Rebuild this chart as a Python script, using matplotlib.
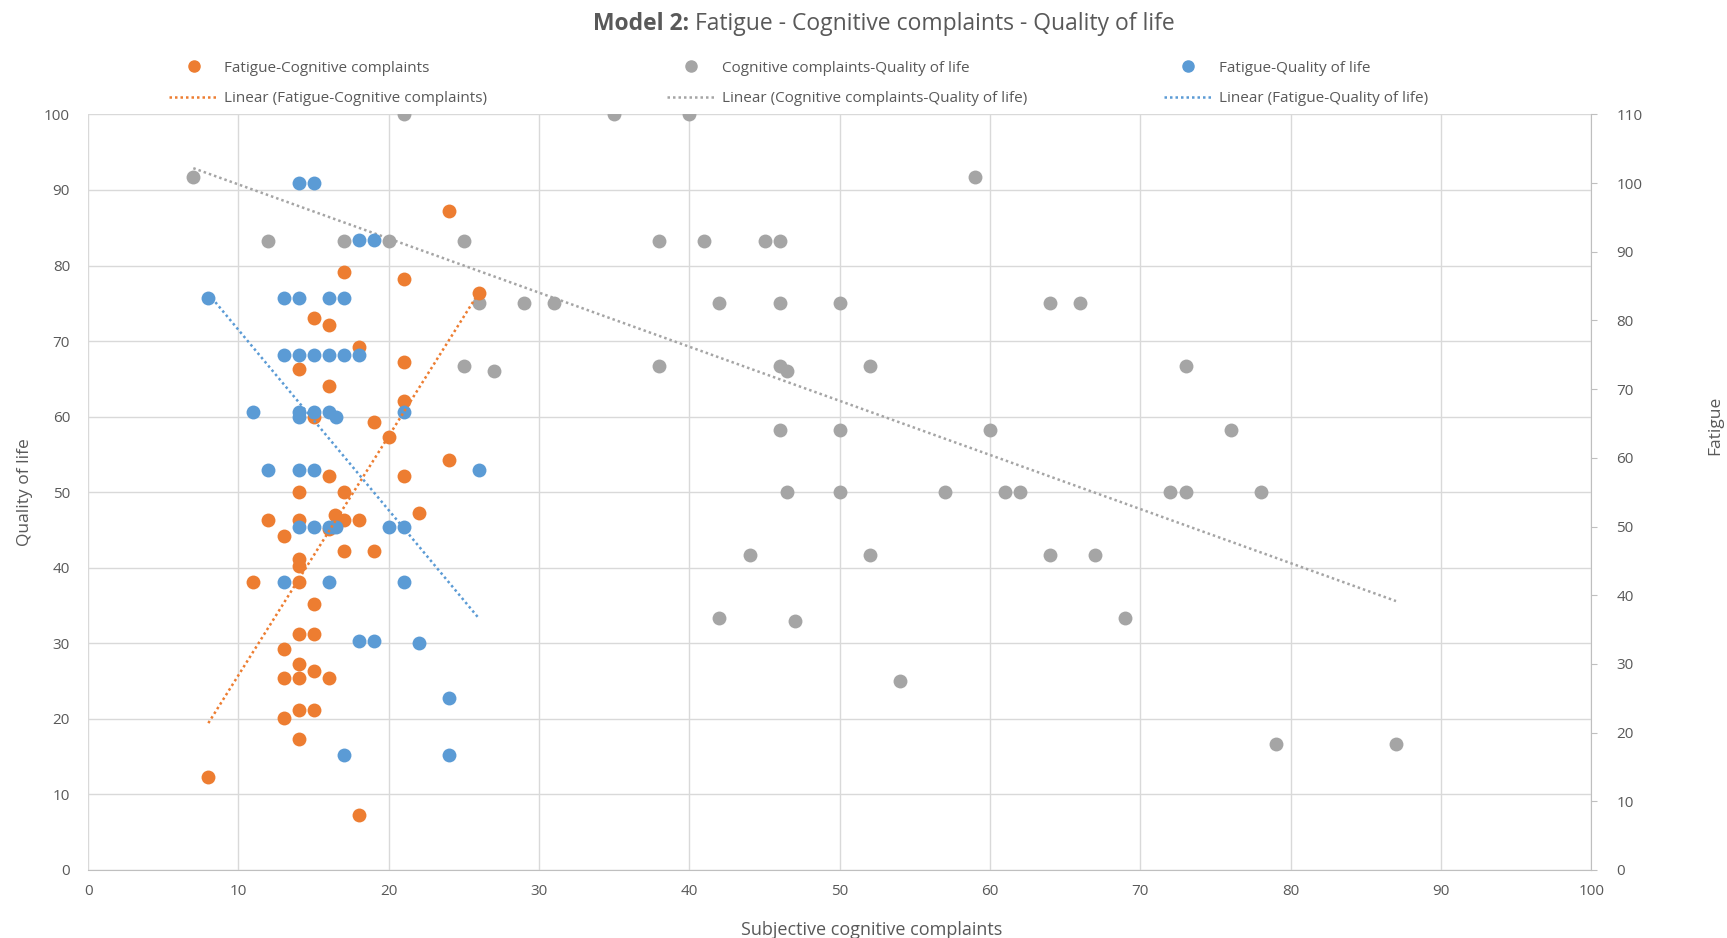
import numpy as np
import matplotlib.pyplot as plt
from matplotlib.lines import Line2D

plt.rcParams['font.family'] = ['Open Sans', 'DejaVu Sans']

# Fatigue-Cognitive complaints (x: cognitive complaints, y: fatigue, right axis)
fc_x = [24, 17, 21, 26, 15, 16, 18, 21, 14, 16, 21, 15, 19, 20, 24, 16, 21, 14, 17, 22,
        12, 14, 16.4, 17, 18, 16, 13, 14, 14, 17, 19, 11, 14, 15, 14, 15, 13, 14, 15, 13,
        14, 16, 14, 15, 13, 14, 8, 18]
fc_y = [96, 87, 86, 84, 80.4, 79.3, 76.2, 74, 73, 70.5, 68.3, 66, 65.2, 63, 59.7, 57.4, 57.4, 55, 55, 52,
        51, 51, 51.7, 51, 51, 49.7, 48.6, 45.3, 44.3, 46.4, 46.4, 42, 42, 38.7, 34.3, 34.3, 32.2, 30, 29, 28,
        28, 28, 23.3, 23.3, 22.2, 19, 13.5, 8]

# Cognitive complaints-Quality of life (left axis)
cq_x = [7, 12, 17, 20, 21, 25, 26, 29, 31, 25, 27, 35, 40, 38, 41, 45, 46, 42, 46, 50,
        38, 46, 46.5, 52, 46, 50, 46.5, 50, 44, 52, 42, 47, 54, 59, 57, 60, 61, 62, 64, 66,
        64, 67, 69, 73, 72, 73, 76, 78, 79, 87]
cq_y = [91.7, 83.3, 83.3, 83.3, 100, 83.3, 75, 75, 75, 66.7, 66, 100, 100, 83.3, 83.3, 83.3, 83.3, 75, 75, 75,
        66.7, 66.7, 66, 66.7, 58.3, 58.3, 50, 50, 41.7, 41.7, 33.3, 33, 25, 91.7, 50, 58.3, 50, 50, 75, 75,
        41.7, 41.7, 33.3, 66.7, 50, 50, 58.3, 50, 16.7, 16.7]

# Fatigue-Quality of life (right axis)
fq_x = [14, 15, 18, 19, 8, 13, 14, 16, 17, 13, 14, 15, 16, 17, 18, 11, 14, 15, 16, 21,
        14, 16.5, 12, 14, 15, 26, 14, 15, 16, 16.3, 16.5, 20, 21, 13, 16, 21, 18, 19, 22, 24,
        17, 24]
fq_y = [100, 100, 91.7, 91.7, 83.3, 83.3, 83.3, 83.3, 83.3, 75, 75, 75, 75, 75, 75, 66.7, 66.7, 66.7, 66.7, 66.7,
        66, 66, 58.3, 58.3, 58.3, 58.3, 50, 50, 50, 50, 50, 50, 50, 42, 42, 42, 33.3, 33.3, 33, 25,
        16.7, 16.7]

orange = '#ED7D31'
gray = '#A5A5A5'
blue = '#5B9BD5'
txt = '#595959'

fig = plt.figure(figsize=(17.27, 9.38), dpi=100)
ax = fig.add_axes([0.051, 0.0725, 0.8705, 0.8055])
ax2 = ax.twinx()

ax.set_xlim(0, 100)
ax.set_ylim(0, 100)
ax2.set_ylim(0, 110)
ax.set_xticks(np.arange(0, 101, 10))
ax.set_yticks(np.arange(0, 101, 10))
ax2.set_yticks(np.arange(0, 111, 10))
ax.grid(True, color='#D9D9D9', linewidth=1)
ax.set_axisbelow(True)

for a in (ax, ax2):
    for s in ('top', 'left'):
        a.spines[s].set_visible(False)
    a.spines['bottom'].set_color('#BFBFBF')
    a.spines['right'].set_color('#BFBFBF')
ax2.spines['bottom'].set_visible(False)
ax.spines['right'].set_visible(False)

ax.tick_params(axis='x', length=0, labelsize=11, labelcolor=txt, pad=10)
ax.tick_params(axis='y', length=0, labelsize=11, labelcolor=txt, pad=13)
ax2.tick_params(axis='y', length=4, color='#BFBFBF', labelsize=11, labelcolor=txt, pad=14)

ax.scatter(cq_x, cq_y, s=100, color=gray, zorder=3, linewidths=0)
ax2.scatter(fc_x, fc_y, s=100, color=orange, zorder=3, linewidths=0)
ax2.scatter(fq_x, fq_y, s=100, color=blue, zorder=4, linewidths=0)

# linear trendlines over each series' x range
def trend(a, xs, ys, color):
    k, b = np.polyfit(xs, ys, 1)
    xx = np.array([min(xs), max(xs)])
    a.plot(xx, k * xx + b, linestyle=(0, (1, 1.2)), color=color, linewidth=1.8, zorder=5)

trend(ax2, fc_x, fc_y, orange)
trend(ax, cq_x, cq_y, gray)
trend(ax2, fq_x, fq_y, blue)

ax.set_xlabel('Subjective cognitive complaints', fontsize=13, color=txt, labelpad=16)
ax.xaxis.set_label_coords(0.521, -0.068)
ax.set_ylabel('Quality of life', fontsize=12.5, color=txt, labelpad=8)
ax2.set_ylabel('Fatigue', fontsize=12.5, color=txt)
ax2.yaxis.set_label_coords(1.077, 0.588)

# legend: three columns, marker row and trendline row
names = ['Fatigue-Cognitive complaints', 'Cognitive complaints-Quality of life', 'Fatigue-Quality of life']
colors = [orange, gray, blue]
col_x = [0.090, 0.378, 0.666]
for name, c, cx in zip(names, colors, col_x):
    h = [Line2D([], [], marker='o', linestyle='none', color=c, markersize=8),
         Line2D([], [], linestyle=(0, (1, 1.2)), color=c, linewidth=1.8)]
    lg = fig.legend(h, [name, 'Linear (' + name + ')'], loc='upper left',
                    bbox_to_anchor=(cx, 0.950), frameon=False, fontsize=11,
                    handlelength=3.2, labelspacing=1.0, handletextpad=0.4)
    for t in lg.get_texts():
        t.set_color(txt)

# title with bold prefix
t1 = fig.text(0, 0.974, 'Model 2: ', fontsize=16.5, fontweight='bold', color=txt, va='center')
t2 = fig.text(0, 0.974, 'Fatigue - Cognitive complaints - Quality of life', fontsize=16.5, color=txt, va='center')
fig.canvas.draw()
r = fig.canvas.get_renderer()
w1 = t1.get_window_extent(r).width / fig.bbox.width
w2 = t2.get_window_extent(r).width / fig.bbox.width
x0 = 0.512 - (w1 + w2) / 2
t1.set_x(x0)
t2.set_x(x0 + w1)

fig.savefig('out.png', dpi=100)
